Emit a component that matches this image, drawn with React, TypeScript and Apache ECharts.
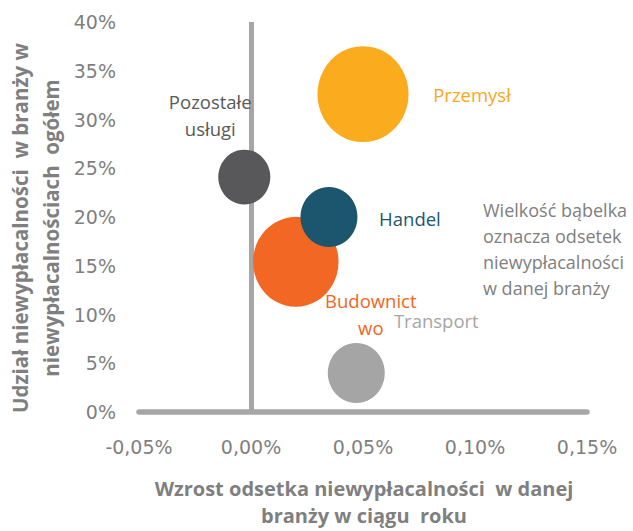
import React, { useEffect, useRef } from "react";
import * as echarts from "echarts";

const industries = ["Przemysł", "Budownictwo", "Handel", "Transport", "Pozostałe usługi"];
const growthX = [0.05, 0.02, 0.0348, 0.047, -0.003];
const shareY = [32.6, 15.4, 20.0, 4.0, 24.1];
const bubbleValue = [0.92, 0.81, 0.36, 0.36, 0.3];
const bubbleColors = ["#FAAB1E", "#F26724", "#1C566E", "#A5A5A5", "#58585A"];
const labelTexts = ["Przemysł", "Budownict\nwo", "Handel", "Transport", "Pozostałe\nusługi"];
const labelColors = ["#F9A71B", "#F26522", "#1C566E", "#A6A6A6", "#595959"];
const labelOffsets = [
  [109, 0],
  [75, 52],
  [81, 1],
  [80, -53],
  [-34, -62],
];
const xTicks = { min: -0.05, max: 0.15, interval: 0.05 };
const yTicks = { min: 0, max: 40, interval: 5 };

const yTitle1 = "Udział niewypłacalności  w branży w";
const yTitle2 = "niewypłacalnościach  ogółem";
const xTitle = "Wzrost odsetka niewypłacalności  w danej\nbranży w ciągu  roku";
const note = "Wielkość bąbelka\noznacza odsetek\nniewypłacalności\nw danej branży";

const FONT = "Open Sans";
const TICKFONT = "DejaVu Sans";

export default function App() {
  const ref = useRef<HTMLDivElement>(null);
  useEffect(() => {
    document.body.style.margin = "0";
    const chart = echarts.init(ref.current!, null, { renderer: "svg" });
    const data = industries.map((name, i) => ({
      name,
      value: [growthX[i], shareY[i], bubbleValue[i]],
      itemStyle: { color: bubbleColors[i], opacity: 1 },
      label: {
        show: true,
        position: "inside",
        offset: labelOffsets[i],
        formatter: labelTexts[i],
        color: labelColors[i],
        fontFamily: FONT,
        fontSize: 18.5,
        lineHeight: 27,
        align: "center",
      },
    }));
    const titleStyle = {
      fill: "#7F7F7F",
      font: `bold 20.5px ${FONT}`,
      align: "center",
      verticalAlign: "middle",
    };
    chart.setOption({
      animation: false,
      grid: { left: 139, right: 46, top: 22, bottom: 119 },
      xAxis: {
        type: "value",
        min: xTicks.min,
        max: xTicks.max,
        interval: xTicks.interval,
        splitLine: { show: false },
        axisTick: { show: false },
        axisLine: { show: true, onZero: false, lineStyle: { color: "#A6A6A6", width: 5.5 } },
        axisLabel: {
          margin: 25,
          color: "#7F7F7F",
          fontFamily: TICKFONT,
          fontSize: 19,
          formatter: (v: number) => v.toFixed(2).replace(".", ",") + "%",
        },
      },
      yAxis: {
        type: "value",
        min: yTicks.min,
        max: yTicks.max,
        interval: yTicks.interval,
        splitLine: { show: false },
        axisTick: { show: false },
        axisLine: { show: false },
        axisLabel: {
          margin: 23,
          color: "#7F7F7F",
          fontFamily: TICKFONT,
          fontSize: 19,
          formatter: (v: number) => v + "%",
        },
      },
      series: [
        {
          type: "scatter",
          data,
          symbol: "circle",
          symbolSize: (val: number[]) => {
            const h = 100 * Math.sqrt(val[2]);
            return [h * 0.95, h];
          },
          markLine: {
            silent: true,
            symbol: "none",
            label: { show: false },
            lineStyle: { color: "#A6A6A6", width: 5, type: "solid" },
            data: [{ xAxis: 0 }],
            z: 1,
          },
        },
      ],
      graphic: [
        {
          type: "text",
          x: 20,
          y: 228,
          rotation: Math.PI / 2,
          style: { ...titleStyle, text: yTitle1 },
        },
        {
          type: "text",
          x: 51,
          y: 228,
          rotation: Math.PI / 2,
          style: { ...titleStyle, text: yTitle2 },
        },
        {
          type: "text",
          x: 364,
          y: 502,
          style: { ...titleStyle, font: `bold 20px ${FONT}`, text: xTitle, lineHeight: 27 },
        },
        {
          type: "text",
          x: 483,
          y: 197,
          style: {
            text: note,
            fill: "#808080",
            font: `18px ${FONT}`,
            lineHeight: 26,
            align: "left",
            verticalAlign: "top",
          },
        },
      ],
    });
    return () => chart.dispose();
  }, []);
  return <div ref={ref} style={{ width: 633, height: 531 }} />;
}
